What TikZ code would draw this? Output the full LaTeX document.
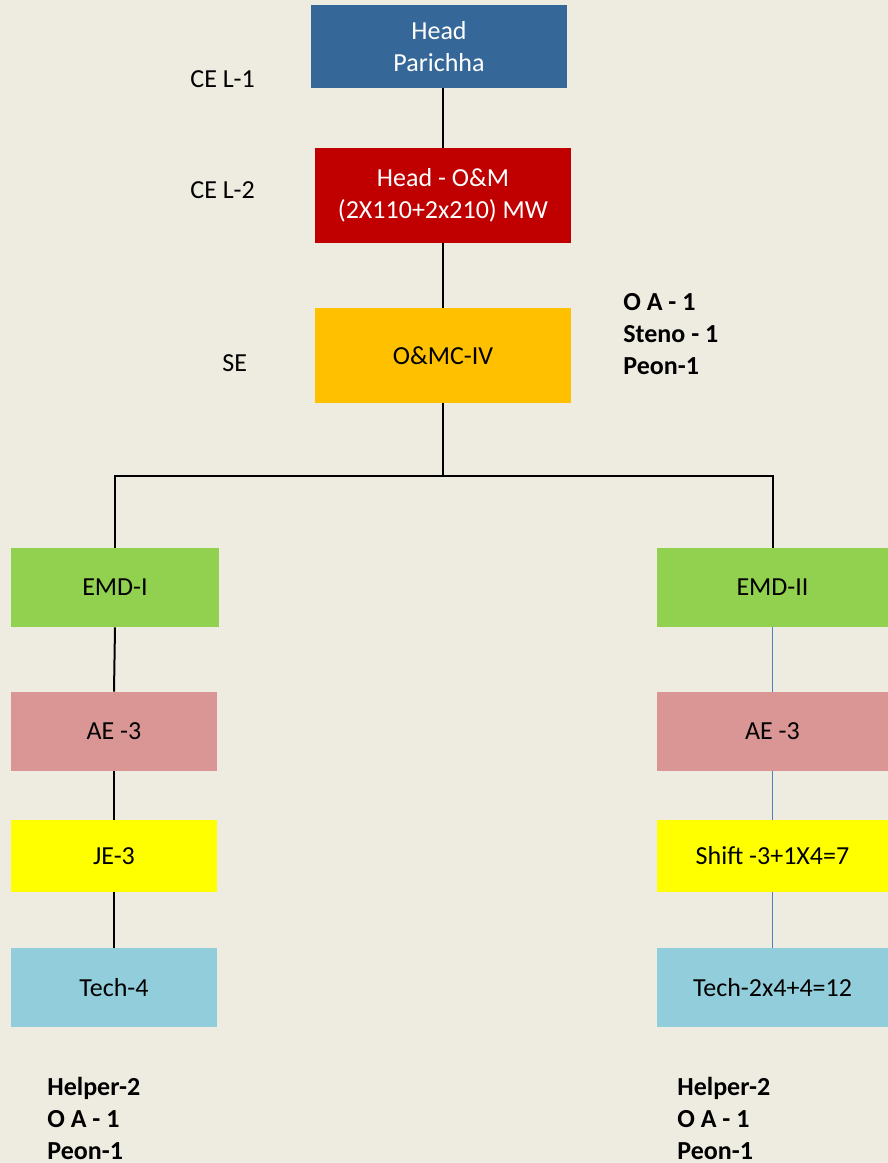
\documentclass[tikz,border=0pt]{standalone}
\usepackage{fontspec}
\setmainfont{Carlito}
\usepackage{xcolor}
\usetikzlibrary{positioning}
\definecolor{bgcream}{HTML}{EEEBE0}
\definecolor{headblue}{HTML}{366799}
\definecolor{omred}{HTML}{C00000}
\definecolor{seorange}{HTML}{FFC000}
\definecolor{emdgreen}{HTML}{92D050}
\definecolor{aepink}{HTML}{DA9694}
\definecolor{jeyellow}{HTML}{FFFF00}
\definecolor{techblue}{HTML}{92CDDC}
\definecolor{linkblue}{HTML}{4F81BD}
\tikzset{
  unit/.style={rectangle, align=center, inner sep=0pt, font=\fontsize{13}{16}\selectfont},
  topbox/.style={unit, minimum width=128pt, minimum height=47.5pt, text=white},
  leftbox/.style={unit, minimum width=104pt, minimum height=39.5pt},
  rightbox/.style={unit, minimum width=115.5pt, minimum height=39.5pt},
  level/.style={font=\fontsize{13}{16}\selectfont, inner sep=0pt, anchor=west},
  staff/.style={font=\fontsize{13}{16}\selectfont\bfseries, inner sep=0pt, anchor=west, align=left},
  link/.style={line width=1pt, black},
  bluelink/.style={line width=0.8pt, linkblue}
}

\begin{document}
\begin{tikzpicture}[x=0.5pt,y=-0.5pt]
\useasboundingbox (0,0) rectangle (888,1163);
\fill[bgcream] (0,0) rectangle (888,1163);

\node[topbox,fill=headblue,minimum height=41.5pt] (head) at (439,46.5) {Head\\Parichha};
\node[topbox,fill=omred] (om) at (443,195.5) {Head - O\&M\\(2X110+2x210) MW};
\node[topbox,fill=seorange,text=black] (omc) at (443,355.5) {O\&MC-IV};

\node[leftbox,fill=emdgreen] (emdi) at (115,587.5) {EMD-I};
\node[leftbox,fill=aepink,minimum width=103pt] (aei) at (114,731.5) {AE -3};
\node[leftbox,fill=jeyellow,minimum width=103pt,minimum height=36pt] (jei) at (114,856) {JE-3};
\node[leftbox,fill=techblue,minimum width=103pt] (techi) at (114,987.5) {Tech-4};

\node[rightbox,fill=emdgreen] (emdii) at (772.5,587.5) {EMD-II};
\node[rightbox,fill=aepink] (aeii) at (772.5,731.5) {AE -3};
\node[rightbox,fill=jeyellow,minimum height=36pt] (shiftii) at (772.5,856) {Shift -3+1X4=7};
\node[rightbox,fill=techblue] (techii) at (772.5,987.5) {Tech-2x4+4=12};

\node[level] (cel1) at (190,79) {CE L-1};
\node[level] (cel2) at (190,190) {CE L-2};
\node[level] (se) at (222,363) {SE};

\node[staff] (omcstaff) at (623,334) {O A - 1\\Steno - 1\\Peon-1};
\node[staff] (leftstaff) at (47,1118) {Helper-2\\O A - 1\\Peon-1};
\node[staff] (rightstaff) at (677,1118) {Helper-2\\O A - 1\\Peon-1};

\coordinate (split) at (443,476);
\draw[link] (head.south -| om) -- (om.north);
\draw[link] (om) -- (omc);
\draw[link] (omc.south) -- (split);
\draw[link] (emdi.north) |- (split) -| (emdii.north);
\draw[link] (emdi.south) -- (aei.north);
\draw[link] (aei) -- (jei);
\draw[link] (jei) -- (techi);
\draw[bluelink] (emdii) -- (aeii);
\draw[bluelink] (aeii) -- (shiftii);
\draw[bluelink] (shiftii) -- (techii);
\end{tikzpicture}
\end{document}
